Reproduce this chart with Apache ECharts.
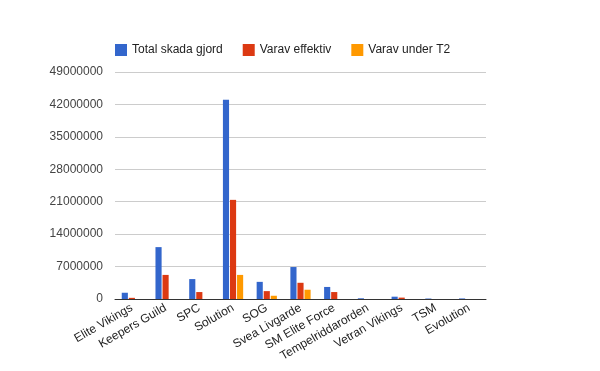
<!DOCTYPE html>
<html><head><meta charset="utf-8">
<script src="https://cdn.jsdelivr.net/npm/echarts@6/dist/echarts.min.js"></script>
<style>html,body{margin:0;padding:0;background:#fff}#c{width:600px;height:371px}</style>
</head><body><div id="c"></div>
<script>
const categories = ["Elite Vikings","Keepers Guild","SPC","Solution","SOG","Svea Livgarde","SM Elite Force","Tempelriddarorden","Vetran Vikings","TSM","Evolution"];
const totalSkada = [1350000,11200000,4300000,43000000,3700000,6900000,2600000,150000,500000,100000,120000];
const varavEffektiv = [250000,5200000,1500000,21400000,1700000,3500000,1500000,0,300000,0,0];
const varavT2 = [0,0,0,5200000,700000,2000000,0,0,0,0,0];
const yTicks = {min:0,max:49000000,interval:7000000};
const seriesNames = ["Total skada gjord","Varav effektiv","Varav under T2"];

const chart = echarts.init(document.getElementById('c'));
chart.setOption({
  animation:false,
  color:['#3366cc','#dc3912','#ff9900'],
  textStyle:{fontFamily:'Liberation Sans, Arial, sans-serif'},
  legend:{left:110,top:39,itemWidth:12,itemHeight:12,itemGap:20,icon:'rect',
    textStyle:{fontSize:12,color:'#222'},data:seriesNames},
  grid:{left:115,right:114,top:72,bottom:72,containLabel:false},
  xAxis:{type:'category',data:categories,
    axisLine:{lineStyle:{color:'#333',width:1}},axisTick:{show:false},
    axisLabel:{interval:0,rotate:30,fontSize:12,color:'#222',margin:8}},
  yAxis:{type:'value',min:yTicks.min,max:yTicks.max,interval:yTicks.interval,
    axisLine:{show:false},axisTick:{show:false},
    splitLine:{lineStyle:{color:'#ccc'}},
    axisLabel:{fontSize:12,color:'#444',margin:12,formatter:v=>String(v)}},
  series:[
    {name:seriesNames[0],type:'bar',data:totalSkada,barGap:'15%',barCategoryGap:'40%'},
    {name:seriesNames[1],type:'bar',data:varavEffektiv},
    {name:seriesNames[2],type:'bar',data:varavT2}
  ]
});
</script></body></html>
